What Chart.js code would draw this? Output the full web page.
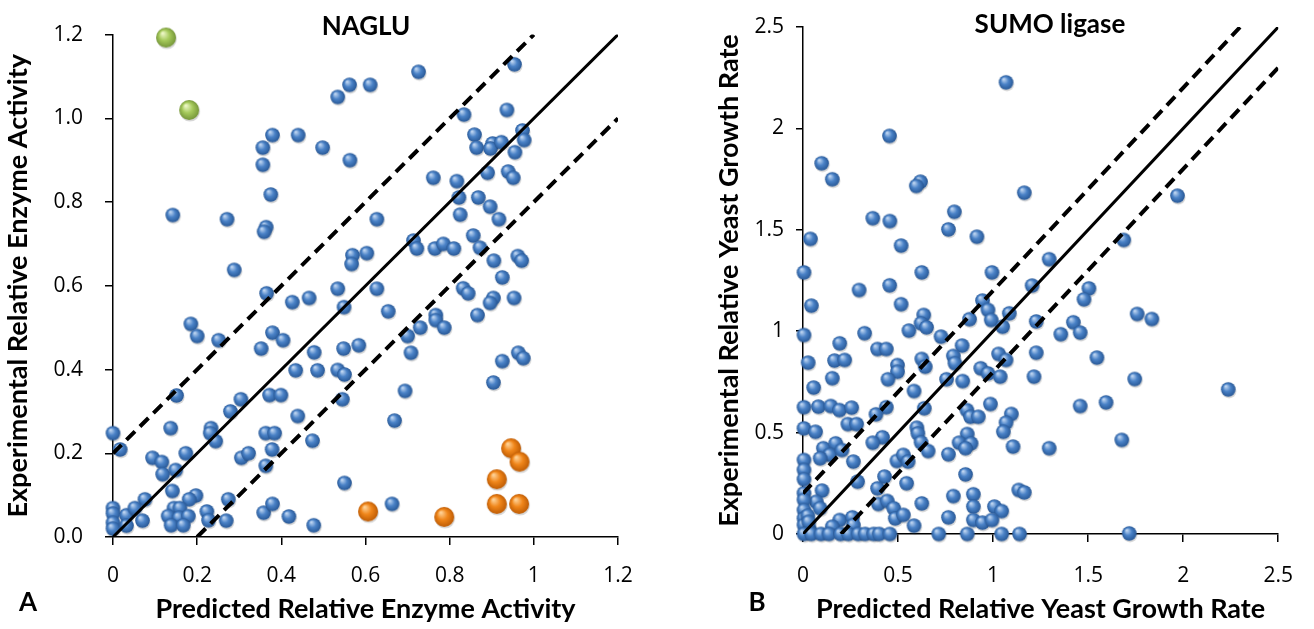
<!DOCTYPE html>
<html>
<head>
<meta charset="utf-8">
<script src="https://cdn.jsdelivr.net/npm/chart.js@4.4.0/dist/chart.umd.min.js"></script>
<style>
  body { margin: 0; background: #fff; }
  #wrap { position: relative; width: 1314px; height: 629px; }
  canvas { position: absolute; top: 0; }
</style>
</head>
<body>
<div id="wrap">
  <canvas id="naglu" width="657" height="629" style="left:0"></canvas>
  <canvas id="sumo" width="657" height="629" style="left:657px"></canvas>
</div>
<script>
// ---- panel A : NAGLU ----
const nagluXTicks = [0, 0.2, 0.4, 0.6, 0.8, 1, 1.2];
const nagluXLabels = ["0", "0.2", "0.4", "0.6", "0.8", "1", "1.2"];
const nagluYTicks = [0, 0.2, 0.4, 0.6, 0.8, 1, 1.2];
const nagluYLabels = ["0.0", "0.2", "0.4", "0.6", "0.8", "1.0", "1.2"];

const nagluBlue = [
  [0.562,1.080],[0.534,1.051],[0.611,1.080],[0.379,0.960],[0.440,0.960],[0.356,0.930],
  [0.498,0.930],[0.356,0.889],[0.563,0.900],[0.375,0.818],[0.142,0.769],[0.271,0.759],
  [0.364,0.740],[0.359,0.729],[0.288,0.638],[0.569,0.673],[0.567,0.652],[0.603,0.678],
  [0.534,0.593],[0.365,0.582],[0.426,0.561],[0.466,0.571],[0.549,0.549],[0.185,0.509],
  [0.200,0.480],[0.251,0.470],[0.379,0.488],[0.404,0.470],[0.352,0.450],[0.478,0.441],
  [0.548,0.450],[0.584,0.458],[0.434,0.398],[0.486,0.398],[0.534,0.399],[0.550,0.388],
  [0.151,0.338],[0.372,0.339],[0.399,0.339],[0.304,0.329],[0.279,0.300],[0.545,0.329],
  [0.137,0.260],[0.000,0.248],[0.233,0.260],[0.231,0.248],[0.244,0.229],[0.439,0.289],
  [0.363,0.248],[0.384,0.248],[0.474,0.230],[0.017,0.209],[0.094,0.189],[0.116,0.179],
  [0.173,0.200],[0.149,0.160],[0.118,0.150],[0.305,0.189],[0.322,0.200],[0.378,0.209],
  [0.363,0.170],[0.550,0.129],[0.141,0.110],[0.076,0.090],[0.197,0.099],[0.181,0.090],
  [0.274,0.090],[0.000,0.069],[0.000,0.056],[0.000,0.034],[0.000,0.020],[0.032,0.052],
  [0.052,0.069],[0.032,0.027],[0.070,0.039],[0.145,0.069],[0.159,0.069],[0.131,0.050],
  [0.157,0.046],[0.179,0.050],[0.138,0.028],[0.167,0.028],[0.223,0.061],[0.227,0.040],
  [0.269,0.039],[0.358,0.058],[0.379,0.079],[0.418,0.049],[0.477,0.028],
  [0.954,1.129],[0.726,1.111],[0.834,1.009],[0.936,1.020],[0.859,0.961],[0.973,0.971],
  [0.977,0.948],[0.864,0.930],[0.902,0.940],[0.897,0.928],[0.923,0.943],[0.955,0.919],
  [0.761,0.858],[0.817,0.850],[0.890,0.870],[0.939,0.873],[0.951,0.858],[0.822,0.811],
  [0.868,0.811],[0.896,0.789],[0.825,0.770],[0.917,0.759],[0.627,0.759],[0.856,0.720],
  [0.714,0.708],[0.722,0.689],[0.765,0.689],[0.785,0.700],[0.810,0.689],[0.872,0.691],
  [0.905,0.660],[0.962,0.671],[0.971,0.660],[0.925,0.620],[0.627,0.593],[0.832,0.594],
  [0.844,0.582],[0.904,0.571],[0.896,0.559],[0.953,0.571],[0.654,0.539],[0.866,0.530],
  [0.767,0.530],[0.767,0.518],[0.730,0.500],[0.787,0.500],[0.700,0.480],[0.708,0.440],
  [0.925,0.420],[0.963,0.440],[0.975,0.427],[0.904,0.369],[0.694,0.349],[0.669,0.278],
  [0.663,0.079]
];
const nagluOrange = [
  [0.946,0.212],[0.966,0.180],[0.912,0.138],[0.912,0.079],[0.965,0.079],[0.787,0.048],[0.606,0.061]
];
const nagluGreen = [[0.126,1.193],[0.181,1.020]];

const nagluIdentity = [[0, 0], [1.2, 1.2]];
const nagluUpper = [[0, 0.2], [1.0, 1.2]];
const nagluLower = [[0.2, 0], [1.2, 1.0]];

// ---- panel B : SUMO ligase ----
const sumoTicks = [0, 0.5, 1, 1.5, 2, 2.5];
const sumoLabels = ["0", "0.5", "1", "1.5", "2", "2.5"];

const sumoBlue = [
  [1.068,2.227],[0.455,1.963],[0.098,1.828],[0.154,1.749],[0.618,1.737],[0.596,1.716],
  [1.164,1.683],[0.796,1.589],[0.367,1.557],[0.457,1.543],[0.765,1.502],[0.915,1.466],
  [0.039,1.455],[0.516,1.422],[0.005,1.290],[0.625,1.290],[0.994,1.290],[0.295,1.203],
  [0.456,1.226],[1.205,1.225],[1.970,1.668],[1.687,1.450],[1.295,1.355],[1.504,1.211],
  [1.478,1.157],[1.758,1.085],[1.835,1.060],[1.422,1.044],[1.356,0.985],[1.458,0.993],
  [1.227,1.048],[1.227,0.894],[1.546,0.870],[1.215,0.776],[1.745,0.764],[2.237,0.713],
  [1.458,0.631],[1.594,0.649],[1.295,0.423],[1.677,0.464],[1.716,0.003],
  [0.044,1.126],[0.516,1.133],[0.635,1.080],[0.621,1.039],[0.650,1.019],[0.557,1.003],
  [0.944,1.151],[0.973,1.105],[0.990,1.055],[1.085,1.088],[1.050,1.022],[0.876,1.059],
  [0.005,0.981],[0.324,0.990],[0.193,0.940],[0.726,0.973],[0.837,0.929],[0.392,0.912],
  [0.438,0.912],[0.027,0.845],[0.166,0.855],[0.219,0.858],[0.625,0.863],[0.643,0.825],
  [0.497,0.833],[0.497,0.800],[0.791,0.878],[0.799,0.842],[1.029,0.888],[1.068,0.858],
  [0.935,0.817],[0.973,0.792],[0.154,0.768],[0.447,0.763],[0.755,0.763],[0.840,0.754],
  [1.037,0.776],[0.056,0.722],[0.584,0.705],[0.005,0.625],[0.081,0.628],[0.146,0.631],
  [0.192,0.611],[0.256,0.623],[0.438,0.625],[0.384,0.590],[0.638,0.620],[0.862,0.611],
  [0.881,0.578],[0.922,0.578],[0.986,0.641],[1.096,0.592],[1.068,0.549],[1.054,0.504],
  [0.005,0.521],[0.066,0.504],[0.236,0.542],[0.282,0.542],[0.599,0.524],[0.604,0.496],
  [0.418,0.477],[0.367,0.450],[0.864,0.493],[0.821,0.450],[0.884,0.447],[0.855,0.423],
  [1.105,0.431],[0.621,0.452],[0.658,0.409],[0.107,0.423],[0.172,0.447],[0.141,0.390],
  [0.090,0.373],[0.205,0.414],[0.005,0.365],[0.005,0.316],[0.005,0.270],[0.265,0.357],
  [0.494,0.360],[0.528,0.390],[0.553,0.357],[0.765,0.393],[0.287,0.258],[0.429,0.283],
  [0.392,0.225],[0.545,0.250],[0.855,0.294],[0.100,0.214],[0.070,0.159],[0.090,0.127],
  [0.005,0.201],[0.005,0.168],[0.005,0.118],[0.005,0.077],[0.005,0.044],[1.135,0.217],
  [1.164,0.205],[0.396,0.148],[0.443,0.163],[0.477,0.127],[0.485,0.077],[0.528,0.094],
  [0.625,0.151],[0.791,0.187],[0.896,0.196],[0.896,0.135],[1.007,0.135],[1.045,0.113],
  [0.765,0.082],[0.896,0.069],[0.944,0.056],[0.994,0.069],[0.193,0.069],[0.260,0.082],
  [0.265,0.044],[0.584,0.041],[0.154,0.036],[0.036,0.020],[0.025,0.090],[0.030,0.060],
  [0.005,0.000],[0.044,0.000],[0.095,0.000],[0.137,0.000],[0.197,0.000],[0.239,0.000],
  [0.290,0.000],[0.327,0.000],[0.372,0.000],[0.401,0.000],[0.457,0.000],[0.714,0.000],
  [0.864,0.000],[1.045,0.000],[1.139,0.000]
];

const sumoIdentity = [[0, 0], [2.5, 2.5]];
const sumoUpper = [[0, 0.2], [2.3, 2.5]];
const sumoLower = [[0.2, 0], [2.5, 2.3]];

// shiny ball used as point marker
function sphere(r, cols) {
  const s = Math.ceil(r * 2 + 6);
  const cv = document.createElement("canvas");
  cv.width = s;
  cv.height = s;
  const g = cv.getContext("2d");
  const c = s / 2;
  g.fillStyle = "rgba(0,0,0,0.16)";
  g.beginPath();
  g.arc(c + 0.8, c + 1.6, r, 0, Math.PI * 2);
  g.fill();
  const grad = g.createRadialGradient(c - r * 0.35, c - r * 0.45, r * 0.05, c, c, r);
  grad.addColorStop(0, cols[0]);
  grad.addColorStop(0.5, cols[1]);
  grad.addColorStop(1, cols[2]);
  g.fillStyle = grad;
  g.beginPath();
  g.arc(c, c, r, 0, Math.PI * 2);
  g.fill();
  return cv;
}
const blueBall = sphere(7.3, ["#c4d9f3", "#4a82c7", "#285896"]);
const orangeBall = sphere(10, ["#ffd398", "#f0861a", "#bf5c04"]);
const greenBall = sphere(10, ["#eef8c8", "#a6ca5c", "#76973a"]);

const toXY = (arr) => arr.map((p) => ({ x: p[0], y: p[1] }));

const panelText = {
  id: "panelText",
  afterDraw(chart, args, opts) {
    const ctx = chart.ctx;
    ctx.save();
    ctx.fillStyle = "#000";
    ctx.textAlign = "center";
    ctx.textBaseline = "middle";
    opts.items.forEach((t) => {
      ctx.font = t.font;
      ctx.fillText(t.text, t.x, t.y);
    });
    ctx.restore();
  },
};

function pointSet(data, ball) {
  return {
    data: toXY(data),
    pointStyle: ball,
    pointRadius: ball.width / 2,
    showLine: false,
    clip: false,
    order: 2,
  };
}
function lineSet(data, dashed) {
  return {
    data: toXY(data),
    showLine: true,
    pointRadius: 0,
    borderColor: "#000",
    borderWidth: dashed ? 4 : 3,
    borderDash: dashed ? [12, 7] : [],
    order: 0,
  };
}

const tickFont = { family: "'Open Sans', sans-serif", size: 21 };
const titleFont = { family: "Lato, sans-serif", size: 27, weight: "bold" };

function axis(o) {
  return {
    type: "linear",
    min: o.min,
    max: o.max,
    afterBuildTicks: (scale) => {
      scale.ticks = o.ticks.map((v) => ({ value: v }));
    },
    afterFit: (scale) => {
      if (o.width) scale.width = o.width;
      if (o.height) scale.height = o.height;
    },
    ticks: {
      callback: (v, i) => o.labels[i],
      font: tickFont,
      color: "#000",
      padding: o.tickPad,
      maxRotation: 0,
      autoSkip: false,
    },
    grid: {
      drawOnChartArea: false,
      drawTicks: true,
      tickLength: o.tickLen,
      color: "#000",
      lineWidth: 1.5,
    },
    border: { display: true, color: "#000", width: 1.5 },
    title: {
      display: true,
      text: o.title,
      font: titleFont,
      color: "#000",
      padding: o.titlePad,
    },
  };
}

new Chart(document.getElementById("naglu"), {
  type: "scatter",
  data: {
    datasets: [
      lineSet(nagluIdentity, false),
      lineSet(nagluUpper, true),
      lineSet(nagluLower, true),
      pointSet(nagluBlue, blueBall),
      pointSet(nagluOrange, orangeBall),
      pointSet(nagluGreen, greenBall),
    ],
  },
  options: {
    responsive: false,
    animation: false,
    events: [],
    devicePixelRatio: 1,
    layout: { padding: { left: 0, right: 39, top: 28, bottom: 0 } },
    plugins: {
      legend: { display: false },
      tooltip: { enabled: false },
      panelText: {
        items: [
          { text: "NAGLU", x: 366, y: 27, font: "bold 26px Lato" },
          { text: "A", x: 28, y: 603, font: "bold 26px Lato" },
        ],
      },
    },
    scales: {
      x: axis({
        min: 0, max: 1.2, ticks: nagluXTicks, labels: nagluXLabels,
        height: 92, tickLen: 8, tickPad: 18,
        title: "Predicted Relative Enzyme Activity",
        titlePad: { top: 0, bottom: 4 },
      }),
      y: axis({
        min: 0, max: 1.2, ticks: nagluYTicks, labels: nagluYLabels,
        width: 113, tickLen: 8, tickPad: 22,
        title: "Experimental Relative Enzyme Activity",
        titlePad: { top: 2, bottom: 0 },
      }),
    },
  },
  plugins: [panelText],
});

new Chart(document.getElementById("sumo"), {
  type: "scatter",
  data: {
    datasets: [
      lineSet(sumoIdentity, false),
      lineSet(sumoUpper, true),
      lineSet(sumoLower, true),
      pointSet(sumoBlue, blueBall),
    ],
  },
  options: {
    responsive: false,
    animation: false,
    events: [],
    devicePixelRatio: 1,
    layout: { padding: { left: 0, right: 20, top: 27, bottom: 0 } },
    plugins: {
      legend: { display: false },
      tooltip: { enabled: false },
      panelText: {
        items: [
          { text: "SUMO ligase", x: 393, y: 25, font: "bold 26px Lato" },
          { text: "B", x: 100, y: 603, font: "bold 26px Lato" },
        ],
      },
    },
    scales: {
      x: axis({
        min: 0, max: 2.5, ticks: sumoTicks, labels: sumoLabels,
        height: 95, tickLen: 8, tickPad: 21,
        title: "Predicted Relative Yeast Growth Rate",
        titlePad: { top: 0, bottom: 4 },
      }),
      y: axis({
        min: 0, max: 2.5, ticks: sumoTicks, labels: sumoLabels,
        width: 146, tickLen: 7, tickPad: 12,
        title: "Experimental Relative Yeast Growth Rate",
        titlePad: { top: 56, bottom: 0 },
      }),
    },
  },
  plugins: [panelText],
});
</script>
</body>
</html>
